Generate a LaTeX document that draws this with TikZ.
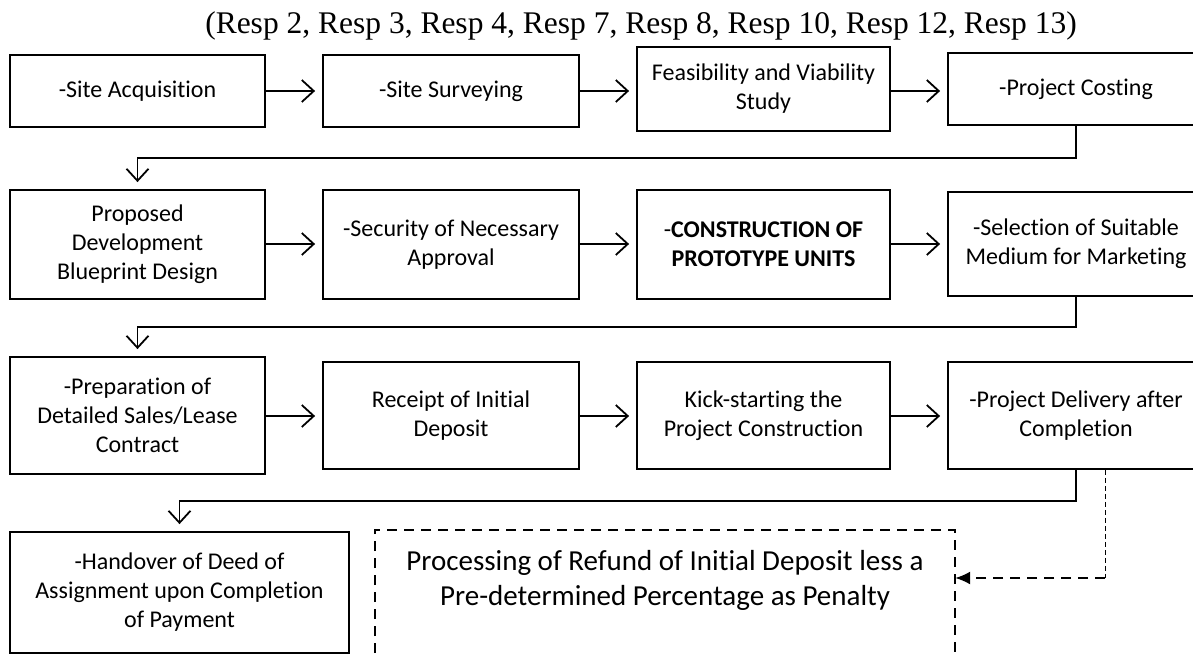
\documentclass[tikz,border=0pt]{standalone}
\usepackage{fontspec}
\setmainfont{Carlito}[Ligatures=NoCommon]
\newfontfamily\titlefont{Liberation Serif}
\usetikzlibrary{arrows.meta}
\begin{document}
\begin{tikzpicture}[x=1pt,y=-1pt,
  box/.style={draw, line width=1.8pt, align=center, inner sep=0pt,
    font=\fontsize{24}{29}\selectfont},
  flow/.style={line width=1.8pt, shorten >=7pt,
    -{Straight Barb[length=12pt,width=22pt,line width=1.8pt]}},
  dashbox/.style={line width=1.8pt, dash pattern=on 10pt off 7pt},
  thindash/.style={line width=0.9pt, dash pattern=on 5pt off 3pt},
]
\useasboundingbox (0,0) rectangle (1193,658);
\clip (0,0) rectangle (1193,658);

\node[font=\titlefont\fontsize{31.5}{36}\selectfont, anchor=base] (title) at (641,34)
  {(Resp 2, Resp 3, Resp 4, Resp 7, Resp 8, Resp 10, Resp 12, Resp 13)};

% row 1
\node[box, minimum width=255pt, minimum height=72pt] (b1) at (137.5,91) {-Site Acquisition};
\node[box, minimum width=256pt, minimum height=72pt] (b2) at (451,91) {-Site Surveying};
\node[box, minimum width=253pt, minimum height=84pt] (b3) at (763.5,89) {Feasibility and Viability\\Study};
\node[box, minimum width=256pt, minimum height=72pt] (b4) at (1076,89) {-Project Costing};

% row 2
\node[box, minimum width=255pt, minimum height=109pt] (b5) at (137.5,244.5) {Proposed\\Development\\Blueprint Design};
\node[box, minimum width=256pt, minimum height=109pt] (b6) at (451,244.5) {-Security of Necessary\\Approval};
\node[box, minimum width=253pt, minimum height=109pt] (b7) at (763.5,244.5) {-\textbf{CONSTRUCTION OF}\\\textbf{PROTOTYPE UNITS}};
\node[box, minimum width=256pt, minimum height=104pt] (b8) at (1076,244) {-Selection of Suitable\\Medium for Marketing};

% row 3
\node[box, minimum width=255pt, minimum height=117pt] (b9) at (137.5,415.5) {-Preparation of\\Detailed Sales/Lease\\Contract};
\node[box, minimum width=256pt, minimum height=107pt] (b10) at (451,415.5) {Receipt of Initial\\Deposit};
\node[box, minimum width=253pt, minimum height=107pt] (b11) at (763.5,415.5) {Kick-starting the\\Project Construction};
\node[box, minimum width=256pt, minimum height=107pt] (b12) at (1076,415.5) {-Project Delivery after\\Completion};

% row 4
\node[box, minimum width=339pt, minimum height=121pt] (b13) at (179.5,592.5) {-Handover of Deed of\\Assignment upon Completion\\of Payment};
\node[minimum width=580pt, minimum height=140pt, inner sep=0pt] (rbox) at (665,600) {};
\node[font=\fontsize{29}{35}\selectfont, align=center] (rtext) at (665,580)
  {Processing of Refund of Initial Deposit less a\\Pre-determined Percentage as Penalty};
\draw[dashbox] (rbox.south west) -- (rbox.north west) -- (rbox.north east) -- (rbox.south east);

% connectors
\draw[flow] (b1.east |- 0,91) -- (b2.west |- 0,91);
\draw[flow] (b2.east |- 0,91) -- (b3.west |- 0,91);
\draw[flow] (b3.east |- 0,91) -- (b4.west |- 0,91);
\draw[flow] (b4.south) -- (b4.south |- 0,158) -| (b5.north);

\draw[flow] (b5.east |- 0,244) -- (b6.west |- 0,244);
\draw[flow] (b6.east |- 0,244) -- (b7.west |- 0,244);
\draw[flow] (b7.east |- 0,244) -- (b8.west |- 0,244);
\draw[flow] (b8.south) -- (b8.south |- 0,327) -| (b9.north);

\draw[flow] (b9.east |- 0,416) -- (b10.west |- 0,416);
\draw[flow] (b10.east |- 0,416) -- (b11.west |- 0,416);
\draw[flow] (b11.east |- 0,416) -- (b12.west |- 0,416);
\draw[flow] (b12.south) -- (b12.south |- 0,501) -| (b13.north);

\coordinate (corner) at (1105,578);
\draw[thindash] ([xshift=29pt]b12.south) -- (corner);
\draw[dashbox, -{Latex[length=15pt,width=13pt]}] (corner) -- (corner -| rbox.east);
\end{tikzpicture}
\end{document}
